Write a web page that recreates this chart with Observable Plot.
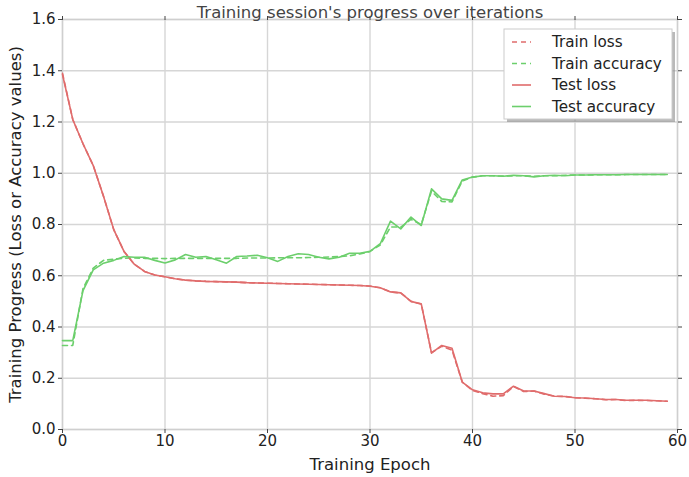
<!DOCTYPE html>
<html>
<head>
<meta charset="utf-8">
<script src="https://cdn.jsdelivr.net/npm/d3@7"></script>
<script src="https://cdn.jsdelivr.net/npm/@observablehq/plot@0.6"></script>
<style>
  html, body { margin: 0; padding: 0; background: #fff; }
  svg { display: block; }
</style>
</head>
<body>
<div id="chart"></div>
<script>
// ---------- data ----------
const title = "Training session's progress over iterations";
const xLabel = "Training Epoch";
const yLabel = "Training Progress (Loss or Accuracy values)";
const xTicks = [0, 10, 20, 30, 40, 50, 60];
const yTicks = [0, 0.2, 0.4, 0.6, 0.8, 1.0, 1.2, 1.4, 1.6];
const epochs = d3.range(60);

const trainLoss = [1.39,1.21,1.115,1.03,0.91,0.78,0.695,0.645,0.617,0.603,
  0.596,0.588,0.583,0.58,0.578,0.577,0.576,0.575,0.573,0.572,
  0.571,0.570,0.569,0.568,0.567,0.566,0.565,0.564,0.563,0.562,
  0.560,0.553,0.537,0.533,0.50,0.49,0.30,0.325,0.31,0.185,
  0.152,0.14,0.13,0.132,0.168,0.148,0.15,0.138,0.13,0.129,
  0.124,0.122,0.12,0.116,0.117,0.113,0.114,0.113,0.112,0.110];
const trainAcc = [0.328,0.328,0.55,0.63,0.66,0.665,0.668,0.67,0.668,0.668,
  0.667,0.668,0.668,0.668,0.668,0.668,0.668,0.668,0.669,0.669,
  0.669,0.67,0.67,0.67,0.671,0.672,0.673,0.675,0.678,0.685,
  0.695,0.72,0.79,0.79,0.82,0.80,0.93,0.89,0.888,0.97,
  0.985,0.99,0.99,0.989,0.99,0.99,0.988,0.99,0.99,0.992,
  0.993,0.993,0.994,0.994,0.994,0.995,0.995,0.995,0.995,0.995];
const testLoss = [1.385,1.21,1.115,1.03,0.91,0.78,0.695,0.645,0.617,0.603,
  0.596,0.588,0.583,0.58,0.578,0.577,0.576,0.575,0.573,0.572,
  0.571,0.570,0.569,0.568,0.567,0.566,0.565,0.564,0.563,0.562,
  0.559,0.553,0.537,0.533,0.50,0.49,0.298,0.328,0.317,0.185,
  0.155,0.143,0.139,0.139,0.169,0.150,0.150,0.140,0.130,0.129,
  0.124,0.123,0.120,0.117,0.117,0.114,0.114,0.114,0.112,0.110];
const testAcc = [0.347,0.347,0.542,0.623,0.649,0.66,0.675,0.672,0.672,0.66,
  0.65,0.662,0.683,0.672,0.675,0.662,0.649,0.675,0.677,0.68,
  0.67,0.656,0.675,0.686,0.683,0.672,0.666,0.672,0.688,0.688,
  0.695,0.725,0.813,0.783,0.829,0.796,0.939,0.90,0.894,0.974,
  0.985,0.99,0.99,0.988,0.992,0.99,0.986,0.99,0.992,0.99,
  0.993,0.993,0.994,0.994,0.994,0.995,0.995,0.995,0.995,0.995];

const seriesNames = ["Train loss", "Train accuracy", "Test loss", "Test accuracy"];
const seriesValues = [trainLoss, trainAcc, testLoss, testAcc];
const RED = "#e06c6c", GREEN = "#6ccf6c";
const seriesStyle = {
  "Train loss": {stroke: RED, dash: "5,4"},
  "Train accuracy": {stroke: GREEN, dash: "5,4"},
  "Test loss": {stroke: RED, dash: null},
  "Test accuracy": {stroke: GREEN, dash: null}
};

const rows = [];
seriesNames.forEach((name, k) => seriesValues[k].forEach((v, i) => rows.push({series: name, epoch: epochs[i], value: v})));

const W = 689, H = 477;
const M = {left: 62, right: 12, top: 19, bottom: 48};
const FONT = "'DejaVu Sans', sans-serif";

const lineMarks = seriesNames.map(name => Plot.line(rows.filter(d => d.series === name), {
  x: "epoch", y: "value", stroke: seriesStyle[name].stroke, strokeWidth: 1.6,
  strokeDasharray: seriesStyle[name].dash || undefined, curve: "linear"
}));

const plot = Plot.plot({
  width: W, height: H,
  marginLeft: M.left, marginRight: M.right, marginTop: M.top, marginBottom: M.bottom,
  style: {fontFamily: FONT, fontSize: "15px", color: "#222", background: "#fff", overflow: "visible"},
  x: {domain: [0, 60], label: null},
  y: {domain: [0, 1.6], label: null},
  marks: [
    Plot.gridX(xTicks, {stroke: "#d6d6d6", strokeOpacity: 1, strokeWidth: 1.4}),
    Plot.gridY(yTicks, {stroke: "#d6d6d6", strokeOpacity: 1, strokeWidth: 1.4}),
    Plot.frame({stroke: "#cfcfcf", strokeWidth: 1.4}),
    Plot.axisX(xTicks, {anchor: "bottom", tickSize: 4, tickPadding: 2, tickFormat: d => String(d), fontSize: 15, stroke: "#444", label: null}),
    Plot.axisX(xTicks, {anchor: "top", tickSize: 4, tickFormat: () => "", stroke: "#444", label: null}),
    Plot.axisY(yTicks, {anchor: "left", tickSize: 4, tickPadding: 3, tickFormat: d3.format(".1f"), fontSize: 15, stroke: "#444", label: null}),
    Plot.axisY(yTicks, {anchor: "right", tickSize: 4, tickFormat: () => "", stroke: "#444", label: null}),
    ...lineMarks,
    Plot.text([title], {text: d => d, frameAnchor: "top", dy: -7, fontSize: 16.5, fill: "#444", textAnchor: "middle", lineAnchor: "middle"}),
    Plot.text([xLabel], {text: d => d, frameAnchor: "bottom", dy: 35, fontSize: 16.5, fill: "#222", textAnchor: "middle", lineAnchor: "middle"}),
    Plot.text([yLabel], {text: d => d, frameAnchor: "left", dx: -47, rotate: -90, fontSize: 16.5, fill: "#222", textAnchor: "middle", lineAnchor: "middle"})
  ]
});

// ---------- legend (built from the series definitions) ----------
const svg = d3.select(plot);
const boxW = 168, boxH = 90, rowH = 21.5;
const boxX = W - M.right - 5 - boxW, boxY = M.top + 10;
const lg = svg.append("g").attr("font-family", FONT).attr("font-size", 15.2).attr("text-anchor", "start");
lg.append("rect").attr("x", boxX + 3).attr("y", boxY + 3).attr("width", boxW).attr("height", boxH).attr("fill", "#8a8a8a").attr("opacity", 0.6);
lg.append("rect").attr("x", boxX).attr("y", boxY).attr("width", boxW).attr("height", boxH).attr("fill", "#fff").attr("stroke", "#cccccc").attr("stroke-width", 1);
seriesNames.forEach((name, i) => {
  const cy = boxY + 13 + i * rowH;
  lg.append("line").attr("x1", boxX + 8).attr("x2", boxX + 27).attr("y1", cy).attr("y2", cy)
    .attr("stroke", seriesStyle[name].stroke).attr("stroke-width", 1.6)
    .attr("stroke-dasharray", seriesStyle[name].dash);
  lg.append("text").attr("x", boxX + 48).attr("y", cy).attr("dy", "0.35em").attr("fill", "#222").attr("text-anchor", "start").text(name);
});

document.getElementById("chart").appendChild(plot);
</script>
</body>
</html>
